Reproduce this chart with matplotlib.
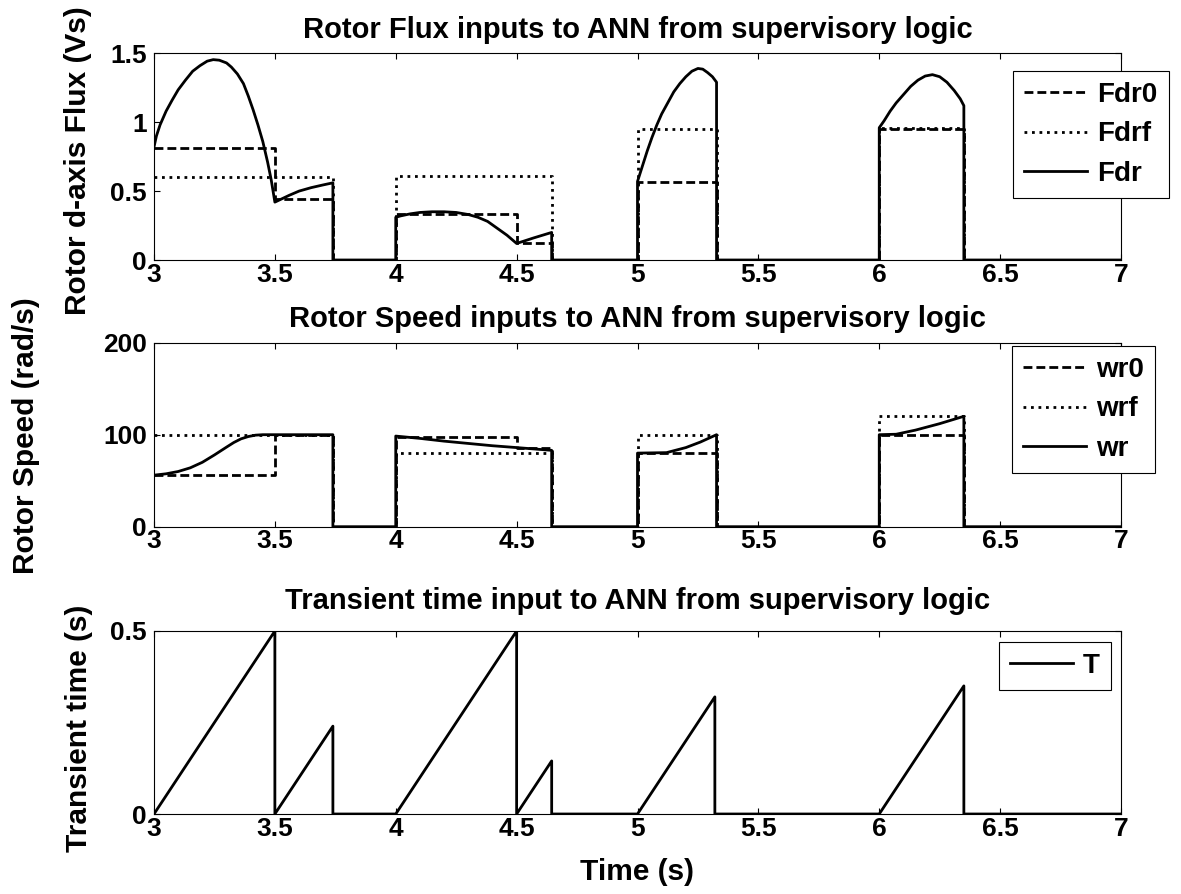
import matplotlib
matplotlib.use('Agg')
import matplotlib.pyplot as plt

plt.rcParams['font.family'] = ['Liberation Sans', 'DejaVu Sans']
plt.rcParams['font.weight'] = 'bold'

# Time axis ticks
x_ticks = [3, 3.5, 4, 4.5, 5, 5.5, 6, 6.5, 7]
x_tick_labels = ['3', '3.5', '4', '4.5', '5', '5.5', '6', '6.5', '7']

# Rotor flux (top panel)
fdr0_t = [3.0, 3.5, 3.74, 4.0, 4.5, 4.645, 5.0, 5.327, 6.0, 6.35, 7.0]
fdr0_v = [0.81, 0.445, 0.0, 0.335, 0.12, 0.0, 0.567, 0.0, 0.95, 0.0, 0.0]
fdrf_t = [3.0, 3.74, 4.0, 4.645, 5.0, 5.327, 6.0, 6.35, 7.0]
fdrf_v = [0.60, 0.0, 0.61, 0.0, 0.954, 0.0, 0.96, 0.0, 0.0]
fdr_t = [3.0, 3.01, 3.025, 3.05, 3.075, 3.1, 3.13, 3.16, 3.19, 3.22, 3.245, 3.27, 3.3,
         3.32, 3.345, 3.37, 3.39, 3.41, 3.43, 3.45, 3.47, 3.485, 3.5,
         3.53, 3.56, 3.6, 3.65, 3.7, 3.74, 3.74,
         4.0, 4.0, 4.02, 4.06, 4.1, 4.15, 4.2, 4.25, 4.3, 4.34, 4.38, 4.42, 4.46, 4.5,
         4.57, 4.645, 4.645,
         5.0, 5.0, 5.02, 5.04, 5.06, 5.08, 5.1, 5.125, 5.15, 5.175, 5.2, 5.225, 5.25,
         5.27, 5.29, 5.31, 5.327, 5.327,
         6.0, 6.0, 6.02, 6.045, 6.07, 6.1, 6.13, 6.16, 6.19, 6.22, 6.25, 6.28, 6.31,
         6.335, 6.35, 6.35, 7.0]
fdr_v = [0.82, 0.90, 0.98, 1.08, 1.16, 1.235, 1.305, 1.37, 1.41, 1.443, 1.454, 1.45, 1.43,
         1.40, 1.35, 1.28, 1.19, 1.09, 0.98, 0.86, 0.71, 0.58, 0.42,
         0.445, 0.47, 0.50, 0.525, 0.545, 0.56, 0.0,
         0.0, 0.31, 0.32, 0.335, 0.345, 0.35, 0.35, 0.345, 0.33, 0.31, 0.28, 0.23, 0.18, 0.12,
         0.16, 0.2, 0.0,
         0.0, 0.57, 0.68, 0.79, 0.89, 0.98, 1.06, 1.14, 1.22, 1.28, 1.33, 1.37, 1.39,
         1.385, 1.36, 1.33, 1.29, 0.0,
         0.0, 0.96, 1.01, 1.08, 1.14, 1.2, 1.26, 1.305, 1.335, 1.345, 1.33, 1.29, 1.23,
         1.17, 1.12, 0.0, 0.0]

# Rotor speed (middle panel)
wr0_t = [3.0, 3.5, 3.74, 4.0, 4.5, 4.645, 5.0, 5.327, 6.0, 6.35, 7.0]
wr0_v = [56, 100, 0, 98, 86, 0, 80, 0, 100, 0, 0]
wrf_t = [3.0, 3.74, 4.0, 4.645, 5.0, 5.327, 6.0, 6.35, 7.0]
wrf_v = [100, 0, 80, 0, 100, 0, 120, 0, 0]
wr_t = [3.0, 3.05, 3.1, 3.15, 3.2, 3.25, 3.3, 3.33, 3.36, 3.39, 3.42, 3.45, 3.74, 3.74,
        4.0, 4.0, 4.1, 4.2, 4.3, 4.4, 4.5, 4.645, 4.645,
        5.0, 5.0, 5.12, 5.2, 5.26, 5.327, 5.327,
        6.0, 6.0, 6.07, 6.15, 6.25, 6.35, 6.35, 7.0]
wr_v = [56, 57.5, 60, 64, 70, 78, 86.5, 91.5, 95.5, 98, 99.5, 100, 100, 0,
        0, 98.5, 96, 93, 90.5, 88, 86, 83, 0,
        0, 80, 80.5, 86, 92, 100, 0,
        0, 100, 100.5, 105, 112, 120, 0, 0]

# Transient time (bottom panel)
T_t = [3.0, 3.5, 3.5, 3.74, 3.74, 4.0, 4.5, 4.5, 4.645, 4.645, 5.0, 5.32, 5.32,
       6.0, 6.35, 6.35, 7.0]
T_v = [0.0, 0.5, 0.0, 0.24, 0.0, 0.0, 0.5, 0.0, 0.145, 0.0, 0.0, 0.32, 0.0,
       0.0, 0.35, 0.0, 0.0]

W, H = 1181, 894
fig = plt.figure(figsize=(11.81, 8.94), dpi=100)

left = 154 / W
width = (1121 - 154) / W
ax1 = fig.add_axes([left, 1 - 260 / H, width, (260 - 53.3) / H])
ax2 = fig.add_axes([left, 1 - 526.7 / H, width, (526.7 - 342.7) / H])
ax3 = fig.add_axes([left, 1 - 814 / H, width, (814 - 631) / H])

dash = (3.2, 1.45)
dot = (1.0, 1.7)
lw = 2.0

ax1.plot(fdr0_t, fdr0_v, color='k', lw=lw, dashes=dash, drawstyle='steps-post', label='Fdr0')
ax1.plot(fdrf_t, fdrf_v, color='k', lw=lw, dashes=dot, drawstyle='steps-post', label='Fdrf')
ax1.plot(fdr_t, fdr_v, color='k', lw=lw, label='Fdr')
ax1.set_ylim(0, 1.5)
ax1.set_yticks([0, 0.5, 1, 1.5])
ax1.set_yticklabels(['0', '0.5', '1', '1.5'])

ax2.plot(wr0_t, wr0_v, color='k', lw=lw, dashes=dash, drawstyle='steps-post', label='wr0')
ax2.plot(wrf_t, wrf_v, color='k', lw=lw, dashes=dot, drawstyle='steps-post', label='wrf')
ax2.plot(wr_t, wr_v, color='k', lw=lw, label='wr')
ax2.set_ylim(0, 200)
ax2.set_yticks([0, 100, 200])

ax3.plot(T_t, T_v, color='k', lw=lw, label='T')
ax3.set_ylim(0, 0.5)
ax3.set_yticks([0, 0.5])
ax3.set_yticklabels(['0', '0.5'])

titles = ['Rotor Flux inputs to ANN from supervisory logic',
          'Rotor Speed inputs to ANN from supervisory logic',
          'Transient time input to ANN from supervisory logic']
pads = [10.8, 11.5, 15.8]
legend_pos = [(1013, 71), (1012, 346), (999, 642)]

for ax, title, pad, (lx, ly) in zip([ax1, ax2, ax3], titles, pads, legend_pos):
    ax.set_xlim(3, 7)
    ax.set_xticks(x_ticks)
    ax.set_xticklabels(x_tick_labels)
    ax.tick_params(direction='in', length=4, width=0.8, top=True, right=True,
                   labelsize=19, color='k')
    ax.tick_params(axis='x', pad=2)
    ax.tick_params(axis='y', pad=5)
    for sp in ax.spines.values():
        sp.set_linewidth(0.8)
    ax.set_title(title, fontsize=21, fontweight='bold', pad=pad)
    leg = ax.legend(loc='upper left', bbox_to_anchor=(lx / W, 1 - ly / H),
                    bbox_transform=fig.transFigure, borderaxespad=0,
                    fontsize=20, handlelength=2.25, handletextpad=0.38,
                    borderpad=0.4, labelspacing=0.48, fancybox=False,
                    framealpha=1, edgecolor='k')
    leg.get_frame().set_linewidth(0.8)

fig.text(78 / W, 1 - 161 / H, 'Rotor d-axis Flux (Vs)', rotation=90,
         ha='center', va='center', fontsize=21.5, fontweight='bold')
fig.text(26 / W, 1 - 436 / H, 'Rotor Speed (rad/s)', rotation=90,
         ha='center', va='center', fontsize=21.5, fontweight='bold')
fig.text(79 / W, 1 - 728 / H, 'Transient time (s)', rotation=90,
         ha='center', va='center', fontsize=21.5, fontweight='bold')
fig.text(637.5 / W, 1 - 880 / H, 'Time (s)', ha='center', va='baseline',
         fontsize=21.5, fontweight='bold')

fig.savefig('out.png', dpi=100)
